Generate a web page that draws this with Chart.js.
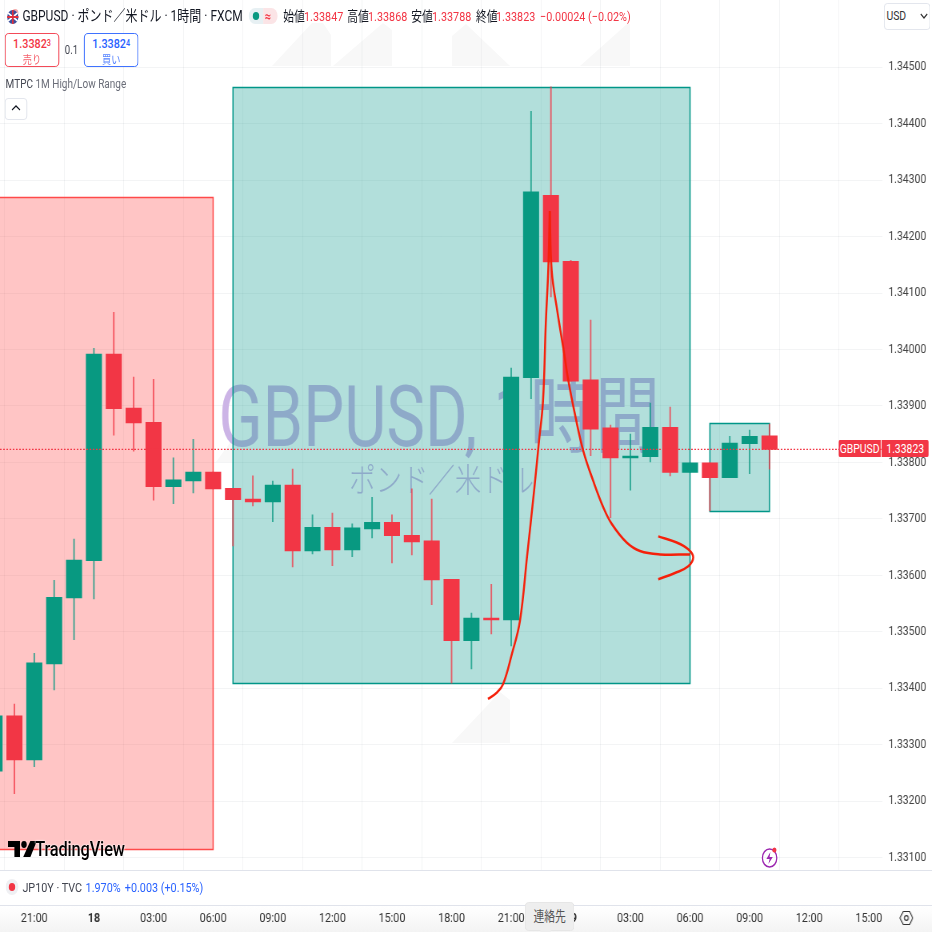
<!DOCTYPE html>
<html lang="ja">
<head>
<meta charset="utf-8">
<title>GBPUSD</title>
<script src="https://cdn.jsdelivr.net/npm/chart.js@4/dist/chart.umd.min.js"></script>
<style>
  html, body { margin: 0; width: 932px; height: 932px; overflow: hidden; background: #fff; }
  /* the reference is a squeezed screenshot: lay out wide, then scale the whole stage */
  #stage { position: absolute; left: 0; top: 0; width: 1165px; height: 932px; transform: scaleX(.8); transform-origin: 0 0;
           font-family: Roboto, "Noto Sans CJK JP", sans-serif; color: #131722; }
  #chart { position: absolute; left: 0; top: 0; z-index: 2; }
  .back  { position: absolute; z-index: 1; }
  .t     { position: absolute; z-index: 3; white-space: nowrap; font-size: 13.5px; line-height: 18px; }
  .red   { color: #f23645; }
  .blue  { color: #2962ff; }
  .btn   { position: absolute; z-index: 3; box-sizing: border-box; width: 68px; height: 34px; border: 1px solid; border-radius: 5px;
           background: #fff; text-align: center; font-size: 13.5px; font-weight: 500; line-height: 15px; padding-top: 2px; }
  .btn sup { font-size: 9px; vertical-align: baseline; position: relative; top: -2px; }
  .btn div { font-size: 11.5px; font-weight: 400; line-height: 14px; opacity: .8; }
</style>
</head>
<body>
<div id="stage">
  <!-- faint shapes behind the chart -->
  <svg class="back" style="left:0;top:0" width="1165" height="932" viewBox="0 0 932 932" preserveAspectRatio="none" fill="#f8f8f8">
    <polygon points="272,66 312,23 323,23 331,35 331,66"/>
    <polygon points="333,66 383,23 392,30 392,66"/>
    <polygon points="452,66 452,36 466,24 510,66"/>
    <polygon points="580,66 627,24 630,24 630,66"/>
    <polygon points="452,743 500,692 510,700 510,743"/>
    <polygon points="216,462 232,440 232,462"/>
  </svg>
  <div class="back" style="left:0;top:870px;width:1165px;height:1px;background:#e0e3eb"></div>
  <div class="back" style="left:0;top:905px;width:1165px;height:27px;border-top:1px solid #e0e3eb;background:linear-gradient(#fff,#f3f3f3)"></div>

  <canvas id="chart" width="1165" height="932"></canvas>

  <svg style="position:absolute;z-index:3;left:7px;top:8px" width="20" height="17" viewBox="0 0 20 17">
    <circle cx="12" cy="5" r="4" fill="#f4a9a9"/><circle cx="9" cy="9" r="7" fill="#3c4f9c"/>
    <path d="M3 5 L15 13 M3 13 L15 5" stroke="#fff" stroke-width="2"/><path d="M2 9 H16 M9 2 V16" stroke="#e0303c" stroke-width="2"/>
  </svg>
  <div class="t" style="left:28px;top:7px;font-size:15px">GBPUSD · ポンド／米ドル · 1時間 · FXCM</div>

  <div class="back" style="z-index:3;left:311px;top:8px;width:18px;height:16px;border-radius:8px 0 0 8px;background:#e7f0f3"></div>
  <div class="back" style="z-index:3;left:329px;top:8px;width:18px;height:16px;border-radius:0 8px 8px 0;background:#fbe4e6"></div>
  <div class="back" style="z-index:3;left:316px;top:12px;width:8px;height:8px;border-radius:4px;background:#089981"></div>
  <div class="t red" style="left:331px;top:7px;font-weight:700">≈</div>

  <div class="t" style="left:354px;top:7px">始値</div><div class="t red" style="left:380px;top:7px">1.33847</div>
  <div class="t" style="left:434px;top:7px">高値</div><div class="t red" style="left:460px;top:7px">1.33868</div>
  <div class="t" style="left:514px;top:7px">安値</div><div class="t red" style="left:540px;top:7px">1.33788</div>
  <div class="t" style="left:595px;top:7px">終値</div><div class="t red" style="left:620px;top:7px">1.33823</div>
  <div class="t red" style="left:675px;top:7px">−0.00024 (−0.02%)</div>

  <div class="btn red" style="left:6px;top:33px">1.3382<sup>3</sup><div>売り</div></div>
  <div class="t" style="left:81px;top:41px;font-size:12px;color:#434651">0.1</div>
  <div class="btn blue" style="left:105px;top:33px">1.3382<sup>4</sup><div>買い</div></div>

  <div class="t" style="left:7px;top:75px;font-size:12.5px;color:#434651">MTPC <span style="color:#6a6d78">1M High/Low Range</span></div>
  <div class="back" style="z-index:3;left:6px;top:98px;width:26px;height:20px;border:1px solid #e0e3eb;border-radius:4px;background:#fff"></div>
  <svg style="position:absolute;z-index:3;left:14px;top:104px" width="12" height="8"><path d="M1 6 L6 2 L11 6" fill="none" stroke="#131722" stroke-width="1.4"/></svg>

  <div class="back" style="z-index:3;left:1105px;top:3px;width:56px;height:25px;border:1px solid #e0e3eb;border-radius:4px;background:#fff"></div>
  <div class="t" style="left:1108px;top:7px;font-size:13px;color:#333">USD</div>
  <svg style="position:absolute;z-index:3;left:1150px;top:13px" width="10" height="7"><path d="M1 1 L5 5 L9 1" fill="none" stroke="#333" stroke-width="1.4"/></svg>

  <div class="t" style="left:1048px;top:440px;width:53px;height:17px;line-height:17px;text-align:center;background:#f23645;color:#fff;font-size:13px;border-radius:2px 0 0 2px">GBPUSD</div>
  <div class="t" style="left:1102px;top:440px;width:59px;height:17px;line-height:17px;text-align:center;background:#f23645;color:#fff;font-size:13px;border-radius:0 2px 2px 0">1.33823</div>

  <svg style="position:absolute;z-index:3;left:10px;top:840px" width="36" height="18" viewBox="0 0 36 18">
    <path d="M0 1 H15 V17 H8 V7 H0 Z M28 1 H36 L28 17 H19 Z" fill="#000"/><circle cx="20" cy="4.5" r="3.4" fill="#000"/>
  </svg>
  <div class="t" style="left:44px;top:836px;font-size:20.5px;line-height:26px;font-weight:500;color:#000;letter-spacing:-.2px;text-shadow:0 0 2px #fff,0 0 2px #fff">TradingView</div>

  <svg style="position:absolute;z-index:3;left:950px;top:845px" width="24" height="24" viewBox="0 0 24 24">
    <circle cx="12" cy="13" r="9" fill="none" stroke="#9c27b0" stroke-width="1.6"/>
    <path d="M13 7 L8 14 H12 L10.5 19 L16 12 H12 Z" fill="#9c27b0"/><circle cx="18" cy="5" r="2.6" fill="#f23645"/>
  </svg>

  <div class="back" style="z-index:3;left:7px;top:879px;width:16px;height:16px;border-radius:8px;background:#eff0f3"></div>
  <div class="back" style="z-index:3;left:11px;top:883px;width:8px;height:8px;border-radius:4px;background:#f23645"></div>
  <div class="t" style="left:28px;top:878px;color:#434651">JP10Y · TVC</div>
  <div class="t blue" style="left:107px;top:878px">1.970%</div>
  <div class="t blue" style="left:156px;top:878px">+0.003 (+0.15%)</div>

  <div class="t" style="left:656px;top:902px;width:60px;height:27px;line-height:27px;text-align:center;background:#eee;border:1px solid #e4e4e4;border-radius:5px;color:#555;font-size:13.5px">連絡先</div>
  <div class="back" style="z-index:3;left:677px;top:926px;width:10px;height:10px;background:#eee;transform:rotate(45deg)"></div>

  <svg style="position:absolute;z-index:3;left:1124px;top:909px" width="18" height="18" viewBox="0 0 18 18">
    <path d="M5 2.5 H13 L17 9 L13 15.5 H5 L1 9 Z" fill="none" stroke="#333" stroke-width="1.2"/><circle cx="9" cy="9" r="2.4" fill="none" stroke="#333" stroke-width="1.2"/>
  </svg>
</div>

<script>
// candles, x = bar number counted from the 21:00 bar on the 17th
const barIndex = [-2,-1,0,1,2,3,4,5,6,7,8,9,10,11,12,13,14,15,16,17,18,19,20,21,22,23,24,25,26,27,28,29,30,31,32,33,34,35,36,37];
const opens  = [1.33253,1.33351,1.33273,1.33443,1.33560,1.33626,1.33992,1.33896,1.33871,1.33757,1.33767,1.33783,1.33754,1.33735,1.33730,1.33760,1.33643,1.33685,1.33645,1.33682,1.33694,1.33671,1.33661,1.33593,1.33484,1.33524,1.33521,1.33950,1.34273,1.34156,1.33946,1.33861,1.33808,1.33810,1.33862,1.33782,1.33799,1.33773,1.33833,1.33847];
const highs  = [1.33351,1.33372,1.33462,1.33591,1.33664,1.34002,1.34066,1.33951,1.33947,1.33808,1.33841,1.33783,1.33754,1.33776,1.33767,1.33788,1.33707,1.33710,1.33691,1.33738,1.33707,1.33753,1.33735,1.33593,1.33533,1.33584,1.33967,1.34422,1.34465,1.34158,1.34052,1.33866,1.33850,1.33905,1.33898,1.33799,1.33799,1.33846,1.33857,1.33868];
const lows   = [1.33253,1.33213,1.33261,1.33397,1.33486,1.33558,1.33848,1.33820,1.33733,1.33727,1.33746,1.33753,1.33652,1.33723,1.33695,1.33615,1.33638,1.33617,1.33633,1.33666,1.33622,1.33636,1.33548,1.33409,1.33434,1.33496,1.33475,1.33913,1.34093,1.33944,1.33812,1.33702,1.33751,1.33801,1.33776,1.33782,1.33714,1.33773,1.33780,1.33788];
const closes = [1.33351,1.33273,1.33445,1.33561,1.33627,1.33992,1.33895,1.33870,1.33757,1.33769,1.33783,1.33753,1.33734,1.33730,1.33760,1.33643,1.33685,1.33645,1.33684,1.33694,1.33670,1.33659,1.33592,1.33484,1.33524,1.33521,1.33951,1.34279,1.34155,1.33944,1.33859,1.33808,1.33811,1.33862,1.33782,1.33799,1.33773,1.33834,1.33846,1.33823];

const priceTicks = [1.331,1.332,1.333,1.334,1.335,1.336,1.337,1.338,1.339,1.340,1.341,1.342,1.343,1.344,1.345];
const timeTicks  = [0,3,6,9,12,15,18,21,24,27,30,33,36,39,42];
const timeLabels = ['21:00','18','03:00','06:00','09:00','12:00','15:00','18:00','21:00','19','03:00','06:00','09:00','12:00','15:00'];
const boldLabels = ['18','19'];
const lastPrice  = 1.33823;

// drawn boxes: bar number range, price range
const redBox    = [-3, 9, 1.33115, 1.34270];
const tealBoxes = [[10, 33, 1.33409, 1.34465], [34, 37, 1.33714, 1.33870]];

// hand-drawn arrow
const upX    = [22.83,23.27,23.59,24.03,24.44,24.80,25.15,25.40,25.60,25.74,25.87,25.94];
const upY    = [1.33381,1.33392,1.33407,1.33460,1.33519,1.33634,1.33749,1.33838,1.33908,1.34045,1.34145,1.34245];
const downX  = [25.94,26.04,26.32,26.62,26.88,27.21,27.63,28.13,28.64,29.06,29.81,30.48,31.49,33.00];
const downY  = [1.34245,1.34139,1.34068,1.34003,1.33944,1.33885,1.33820,1.33767,1.33720,1.33691,1.33658,1.33643,1.33637,1.33637];
const headX  = [31.40,32.33,32.91,33.16,32.91,32.24,31.40];
const headY  = [1.33669,1.33658,1.33646,1.33632,1.33616,1.33604,1.33593];

const xMin = -1.726, xMax = 42.66;
const yMin = 1.33078, yMax = 1.34619;

const UP = '#089981', DOWN = '#f23645', PEN = '#f5200a';
const barColor  = ctx => closes[ctx.dataIndex] >= opens[ctx.dataIndex] ? UP : DOWN;
const wickColor = ctx => barColor(ctx) + 'c0';
const pairs = (xs, ys) => xs.map((x, i) => ({ x, y: ys[i] }));
const pen = (xs, ys) => ({
  type: 'line', data: pairs(xs, ys), borderColor: PEN, borderWidth: 2.5, pointRadius: 0, tension: 0.4, order: 1,
});

// watermark and boxes go under the candles
const underlay = {
  id: 'underlay',
  beforeDatasetsDraw(chart) {
    const { ctx, scales: { x, y }, chartArea: a } = chart;
    ctx.save();
    ctx.beginPath(); ctx.rect(a.left, a.top, a.width, a.height); ctx.clip();
    ctx.fillStyle = '#ccb4e6';
    ctx.textAlign = 'center';
    ctx.font = '400 85px Roboto, "Noto Sans CJK JP"';
    ctx.fillText('GBPUSD, 1時間', 549, 446, 552);
    ctx.font = '300 33px Roboto, "Noto Sans CJK JP"';
    ctx.fillText('ポンド／米ドル', 552, 492);

    const box = ([x0, x1, p0, p1], fill, line) => {
      const l = x.getPixelForValue(x0), r = x.getPixelForValue(x1);
      const t = Math.round(y.getPixelForValue(p1)) + 0.5, b = Math.round(y.getPixelForValue(p0)) + 0.5;
      ctx.fillStyle = fill; ctx.strokeStyle = line; ctx.lineWidth = 1.5;
      ctx.fillRect(l, t, r - l, b - t); ctx.strokeRect(l, t, r - l, b - t);
    };
    box(redBox, 'rgba(255,64,64,0.3)', '#ff4a4a');
    tealBoxes.forEach(b => box(b, 'rgba(0,150,136,0.3)', '#009688'));
    ctx.restore();
  },
};

new Chart(document.getElementById('chart'), {
  type: 'bar',
  plugins: [underlay],
  data: {
    datasets: [
      {
        label: 'wick', data: barIndex.map((x, i) => ({ x, y: [lows[i], highs[i]] })),
        backgroundColor: wickColor, barThickness: 1.25, grouped: false, order: 4,
      },
      {
        label: 'body', data: barIndex.map((x, i) => ({ x, y: [opens[i], closes[i]] })),
        backgroundColor: barColor, barThickness: 19.4, grouped: false, order: 3,
      },
      {
        type: 'line', label: 'last', data: pairs([xMin, xMax], [lastPrice, lastPrice]),
        borderColor: DOWN, borderWidth: 1.3, borderDash: [2, 2], pointRadius: 0, order: 2,
      },
      pen(upX, upY), pen(downX, downY), pen(headX, headY),
    ],
  },
  options: {
    responsive: false, animation: false, devicePixelRatio: 1,
    layout: { padding: 0 },
    plugins: { legend: { display: false }, tooltip: { enabled: false } },
    scales: {
      x: {
        type: 'linear', min: xMin, max: xMax, offset: false,
        afterFit: s => { s.height = 62; s.paddingLeft = 0; s.paddingRight = 0; },
        afterBuildTicks: s => { s.ticks = timeTicks.map(value => ({ value })); },
        grid: { color: 'rgba(40,50,70,0.055)', drawTicks: false },
        border: { display: false },
        ticks: {
          autoSkip: false, maxRotation: 0, padding: 41, color: '#333',
          font: ctx => ({ family: 'Roboto', size: 13.5, weight: boldLabels.includes(timeLabels[ctx.index]) ? '700' : '400' }),
          callback: (v, i) => timeLabels[i],
        },
      },
      y: {
        position: 'right', min: yMin, max: yMax,
        afterFit: s => { s.width = 62.5; s.paddingTop = 0; s.paddingBottom = 0; },
        afterBuildTicks: s => { s.ticks = priceTicks.map(value => ({ value })); },
        grid: { color: 'rgba(40,50,70,0.055)', drawTicks: false },
        border: { display: false },
        ticks: {
          padding: 8, color: '#444', font: { family: 'Roboto', size: 13 },
          callback: v => v.toFixed(5),
        },
      },
    },
  },
});
</script>
</body>
</html>
